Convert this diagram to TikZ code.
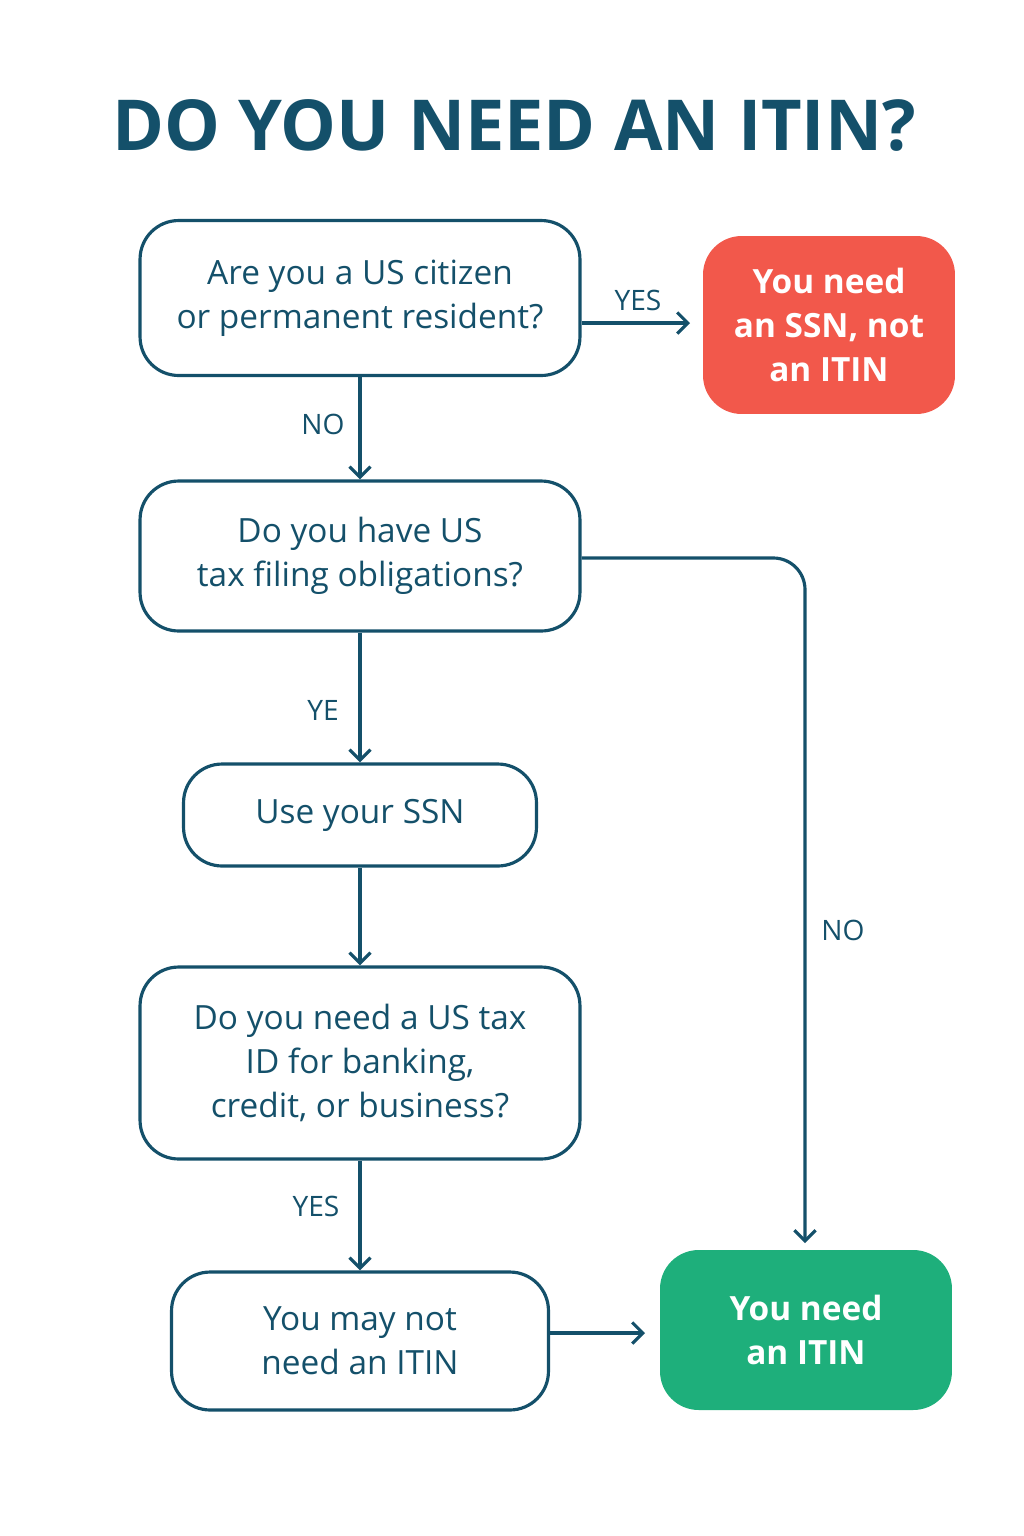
\documentclass[tikz,border=0pt]{standalone}
\usepackage{fontspec}
\setmainfont{Open Sans}
\usepackage{tikz}
\usetikzlibrary{arrows.meta, positioning, calc}
\definecolor{teal}{HTML}{14506A}
\definecolor{ssnred}{HTML}{F2584B}
\definecolor{itingreen}{HTML}{1EAF7B}
\tikzset{
  box/.style={draw=teal, line width=1.8pt, rounded corners=22pt, align=center,
    text=teal, font=\fontsize{19}{25}\selectfont, inner sep=0pt},
  endbox/.style={rounded corners=22pt, align=center, text=white,
    font=\fontsize{19}{25}\selectfont\bfseries, inner sep=0pt},
  link/.style={draw=teal, line width=1.8pt, -{Straight Barb[length=6pt, width=12pt]}},
  lbl/.style={text=teal, font=\fontsize{16}{18}\selectfont}
}
\begin{document}
\begin{tikzpicture}[x=0.02cm, y=-0.02cm]
      \useasboundingbox (0, 0) rectangle (1024, 1536);

      \node[text=teal, font=\fontsize{40}{44}\selectfont\bfseries] (title) at (514, 125) {DO YOU NEED AN ITIN?};

      \node[box, minimum width=8.8cm, minimum height=3.1cm] (citizen) at (360, 298) {Are you a US citizen\\or permanent resident?};
      \node[endbox, fill=ssnred, minimum width=5.04cm, minimum height=3.56cm] (ssn) at (829, 325) {You need\\an SSN, not\\an ITIN};
      \node[box, minimum width=8.8cm, minimum height=3.0cm] (filing) at (360, 556) {Do you have US\\tax filing obligations?};
      \node[box, minimum width=7.06cm, minimum height=2.04cm] (use) at (360, 815) {Use your SSN};
      \node[box, minimum width=8.8cm, minimum height=3.84cm] (taxid) at (360, 1063) {Do you need a US tax\\ID for banking,\\credit, or business?};
      \node[box, minimum width=7.54cm, minimum height=2.76cm] (maynot) at (360, 1341) {You may not\\need an ITIN};
      \node[endbox, fill=itingreen, minimum width=5.84cm, minimum height=3.2cm] (itin) at (806, 1330) {You need\\an ITIN};

      \draw[link] (citizen.east |- 0, 323) -- (690, 323);
      \node[lbl] (yes1) at (638, 300) {YES};
      \draw[link] (citizen) -- (filing);
      \node[lbl] (no1) at (323, 424) {NO};
      \draw[link] (filing) -- (use);
      \node[lbl] (ye) at (323, 710) {YE};
      \draw[link] (use) -- (taxid);
      \draw[link] (taxid) -- (maynot);
      \node[lbl] (yes2) at (316, 1206) {YES};
      \draw[link] (maynot.east |- 0, 1333) -- (645, 1333);
      \draw[link, rounded corners=18pt] (filing.east |- 0, 558) -- (805, 558) -- (805, 1243);
      \node[lbl] (no2) at (843, 930) {NO};
    \end{tikzpicture}
\end{document}
